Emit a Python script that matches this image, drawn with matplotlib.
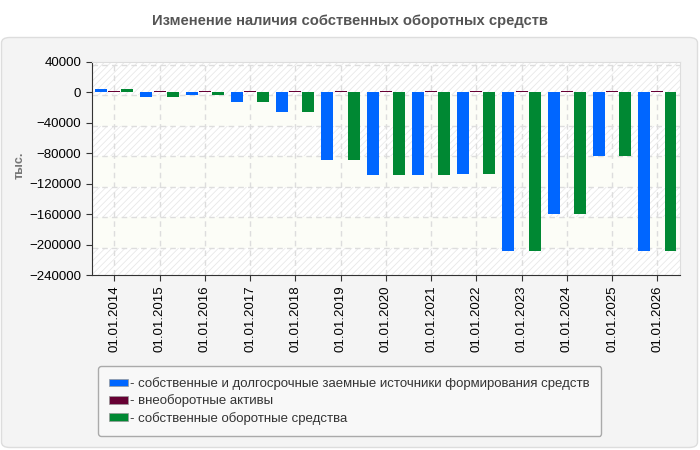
import matplotlib
matplotlib.use('Agg')
import matplotlib.pyplot as plt
import matplotlib.transforms as mtransforms
from matplotlib.patches import FancyBboxPatch, Patch
import numpy as np

plt.rcParams['font.family'] = ['Liberation Sans', 'DejaVu Sans']
plt.rcParams['hatch.linewidth'] = 0.6
plt.rcParams['hatch.color'] = '#e6e6e6'

dates = ['01.01.2014', '01.01.2015', '01.01.2016', '01.01.2017', '01.01.2018',
         '01.01.2019', '01.01.2020', '01.01.2021', '01.01.2022', '01.01.2023',
         '01.01.2024', '01.01.2025', '01.01.2026']
sources = [4000, -6600, -3900, -13200, -26300, -89000, -109100, -109100,
           -107800, -209100, -160400, -84200, -207800]
noncurrent = [2400] * 13
working = [4000, -6600, -3900, -13200, -26300, -89000, -109100, -109100,
           -107800, -209100, -160400, -84200, -207800]
series_names = ['- собственные и долгосрочные заемные источники формирования средств',
                '- внеоборотные активы',
                '- собственные оборотные средства']
colors = ['#0066ff', '#660033', '#008833']

fig = plt.figure(figsize=(7, 4.5), dpi=100)
fig.patch.set_facecolor('white')

# outer panel
panel = FancyBboxPatch((1.5/700, 2.5/450), 696/700, 410/450,
                       boxstyle='round,pad=0,rounding_size=0.012',
                       transform=fig.transFigure, facecolor='#f4f4f4',
                       edgecolor='#dddddd', linewidth=1, zorder=-10)
fig.patches.append(panel)

fig.text(0.5, 1 - 21/450, 'Изменение наличия собственных оборотных средств',
         ha='center', va='center', fontsize=10.6, fontweight='bold', color='#555555')

ax = fig.add_axes([91.7/700, 1 - 275/450, (680 - 91.7)/700, (275 - 62)/450])
ax.set_facecolor('white')
ax.patch.set_hatch('/////')
ax.patch.set_edgecolor('#e8e8e8')

# grid and bands sit ~3px below their values, as in the reference
shift = mtransforms.ScaledTranslation(0, -3/100, fig.dpi_scale_trans)

ticks = np.arange(-240000, 40001, 40000)
for i, top in enumerate(ticks[::-1][:-1]):
    if i % 2 == 1:
        band = ax.axhspan(top - 40000, top, facecolor='#fcfdf7', linewidth=0, zorder=0)
        band.set_transform(ax.get_yaxis_transform() + shift)
for t in ticks:
    gl = ax.axhline(t, color='#dddddd', linestyle=(0, (4, 3)), linewidth=1, zorder=1)
    gl.set_transform(ax.get_yaxis_transform() + shift)

x = np.arange(len(dates))
for xi in x:
    ax.axvline(xi, color='#dddddd', linestyle=(0, (4, 3)), linewidth=1, zorder=1)

w = 0.265
off = 0.29
ax.bar(x - off, sources, w, color=colors[0], zorder=3)
ax.bar(x, noncurrent, w, color=colors[1], zorder=3)
ax.bar(x + off, working, w, color=colors[2], zorder=3)

ax.set_xlim(-0.5, len(dates) - 0.5)
ax.set_ylim(-240000, 40000)
ax.set_yticks(ticks)
ax.set_xticks(x)
ax.set_xticklabels(dates, rotation=90, fontsize=9.5)
ax.tick_params(axis='y', labelsize=9.5, length=4, color='#333333')
ax.tick_params(axis='x', length=4, color='#333333')

for s in ['top', 'right']:
    ax.spines[s].set_color('#dddddd')
for s in ['left', 'bottom']:
    ax.spines[s].set_color('#333333')

fig.text(20/700, 1 - 165/450, 'тыс.', rotation=90, ha='center', va='center',
         fontsize=9, fontweight='bold', color='#777777')

handles = [Patch(facecolor=c, edgecolor='#999999', linewidth=0.5) for c in colors]
leg = fig.legend(handles, series_names, loc='upper left',
                 bbox_to_anchor=(98/700, 1 - 366/450), fontsize=9.5,
                 frameon=True, fancybox=True, handlelength=1.4, handleheight=0.55,
                 handletextpad=0.2, labelspacing=0.33, borderpad=0.85,
                 borderaxespad=0)
leg.get_frame().set_facecolor('#f8f8f8')
leg.get_frame().set_edgecolor('#aaaaaa')
leg.get_frame().set_alpha(1)
for t in leg.get_texts():
    t.set_color('#333333')

fig.savefig('out.png', dpi=100, facecolor=fig.get_facecolor())
